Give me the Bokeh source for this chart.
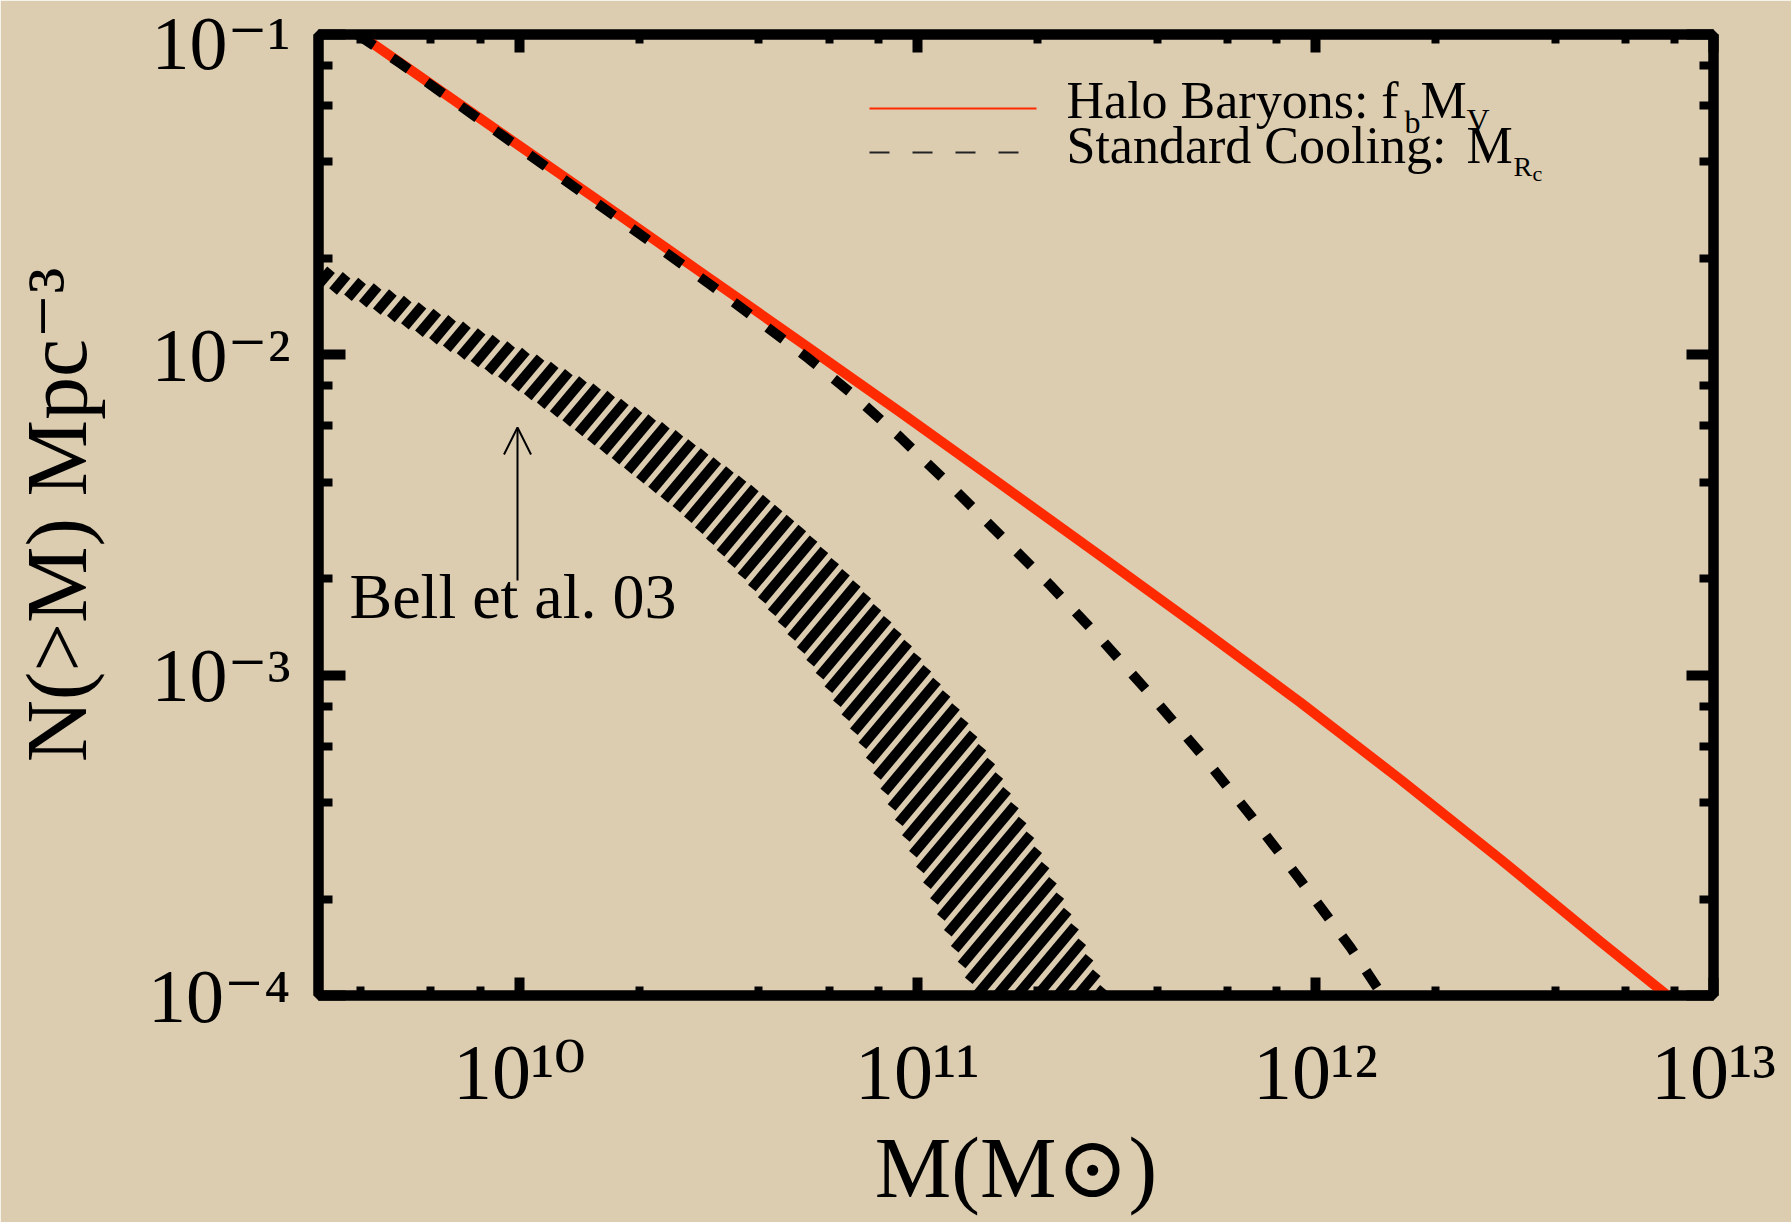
import math
from bokeh.plotting import figure
from bokeh.models import (Range1d, LogAxis, LogTicker, Label, Arrow, OpenHead,
                          CustomJSTickFormatter)
from bokeh.embed import file_html
from bokeh.resources import INLINE

# ---------------- data ----------------
halo_mass = [3.97e9, 5.03e9, 8.97e9, 1.600e10, 2.852e10, 5.09e10, 9.07e10, 1.618e11,
             2.885e11, 5.145e11, 9.17e11, 1.636e12, 2.917e12, 5.20e12, 7.66e12]
halo_density = [1.0e-1, 8.15e-2, 4.94e-2, 3.00e-2, 1.814e-2, 1.096e-2, 6.61e-3, 3.95e-3,
                2.355e-3, 1.398e-3, 8.22e-4, 4.72e-4, 2.66e-4, 1.474e-4, 1.0e-4]

cool_mass = [3.92e9, 5.03e9, 1.007e10, 3.04e10, 5.33e10, 6.79e10, 9.07e10, 1.211e11,
             1.618e11, 2.16e11, 2.885e11, 3.85e11, 5.15e11, 6.87e11, 9.17e11,
             1.225e12, 1.474e12]
cool_density = [1.0e-1, 8.12e-2, 4.41e-2, 1.646e-2, 9.74e-3, 7.63e-3, 5.52e-3, 3.91e-3,
                2.73e-3, 1.905e-3, 1.301e-3, 8.70e-4, 5.69e-4, 3.65e-4, 2.29e-4,
                1.412e-4, 1.0e-4]

bell_mass_upper = [3.10e9, 4.69e9, 7.16e9, 1.117e10, 1.675e10, 2.51e10, 3.81e10, 5.30e10,
                   7.20e10, 9.50e10, 1.232e11, 1.554e11, 2.015e11, 2.47e11, 3.00e11]
bell_upper = [1.914e-2, 1.588e-2, 1.262e-2, 9.88e-3, 7.63e-3, 5.72e-3, 3.94e-3, 2.79e-3,
              1.878e-3, 1.256e-3, 8.21e-4, 5.26e-4, 2.84e-4, 1.678e-4, 1.0e-4]
bell_mass_lower = [3.10e9, 4.01e9, 6.02e9, 8.87e9, 1.254e10, 1.775e10, 2.556e10, 3.075e10,
                   3.81e10, 4.72e10, 5.81e10, 7.32e10, 9.07e10, 1.098e11, 1.306e11, 1.40e11]
bell_lower = [1.658e-2, 1.446e-2, 1.109e-2, 8.50e-3, 6.37e-3, 4.58e-3, 3.20e-3, 2.54e-3,
              1.891e-3, 1.359e-3, 9.55e-4, 5.94e-4, 3.37e-4, 1.979e-4, 1.206e-4, 1.0e-4]

x_tick_values = [1e10, 1e11, 1e12, 1e13]
x_tick_labels = ["10\u00b9\u2070", "10\u00b9\u00b9", "10\u00b9\u00b2", "10\u00b9\u00b3"]
y_tick_values = [1e-1, 1e-2, 1e-3, 1e-4]
y_tick_labels = ["10\u207b\u00b9", "10\u207b\u00b2", "10\u207b\u00b3", "10\u207b\u2074"]
x_limits = (3.13e9, 1.0e13)
y_limits = (1.0e-4, 1.0e-1)

x_title = "M(M\u2299)"
y_title = "N(>M) Mpc\u207b\u00b3"
bell_text = "Bell et al. 03"

# ---------------- layout ----------------
W, H = 1791, 1222
FL, FR, FT, FB = 318, 1713, 34, 995
BG = "#DCCDB1"
RED = "#FF2A00"
SERIF = "Liberation Serif"
SERIF_STACK = "Liberation Serif, DejaVu Serif"

p = figure(width=W, height=H, x_axis_type="log", y_axis_type="log",
           x_range=Range1d(*x_limits), y_range=Range1d(*y_limits),
           output_backend="svg", toolbar_location=None,
           min_border_left=FL, min_border_right=W - FR,
           min_border_top=FT, min_border_bottom=H - FB)
p.background_fill_color = BG
p.border_fill_color = BG
p.outline_line_color = "black"
p.outline_line_width = 10
p.xgrid.visible = False
p.ygrid.visible = False

LX0, LX1 = math.log10(x_limits[0]), math.log10(x_limits[1])
LY0, LY1 = math.log10(y_limits[0]), math.log10(y_limits[1])


def px_x(v):
    return FL + (math.log10(v) - LX0) / (LX1 - LX0) * (FR - FL)


def px_y(v):
    return FB - (math.log10(v) - LY0) / (LY1 - LY0) * (FB - FT)


def data_x(px):
    return 10 ** (LX0 + (px - FL) / (FR - FL) * (LX1 - LX0))


def data_y(py):
    return 10 ** (LY0 + (FB - py) / (FB - FT) * (LY1 - LY0))


LABEL_JS = """
for (let i = 0; i < vals.length; i++) {
  if (Math.abs(Math.log10(tick) - Math.log10(vals[i])) < 1e-6) { return labs[i]; }
}
return "";
"""


def style_axis(ax, major_in, minor_in, vals=None, labs=None):
    ax.ticker = LogTicker()
    ax.axis_line_color = "black"
    ax.axis_line_width = 10
    ax.major_tick_line_color = "black"
    ax.minor_tick_line_color = "black"
    ax.major_tick_in = major_in
    ax.major_tick_out = 0
    ax.minor_tick_in = minor_in
    ax.minor_tick_out = 0
    ax.major_tick_line_width = 10
    ax.minor_tick_line_width = 8
    if vals is None:
        ax.formatter = CustomJSTickFormatter(code="return ''")
        ax.major_label_standoff = 0
    else:
        ax.formatter = CustomJSTickFormatter(args=dict(vals=vals, labs=labs), code=LABEL_JS)
        ax.major_label_text_font = SERIF_STACK
        ax.major_label_text_color = "black"
    ax.axis_label_text_font = SERIF_STACK
    ax.axis_label_text_font_style = "normal"
    ax.axis_label_text_color = "black"


xa = p.xaxis[0]
style_axis(xa, 18, 9, x_tick_values, x_tick_labels)
xa.major_label_text_font_size = "78px"
xa.major_label_standoff = 32
xa.axis_label = x_title
xa.axis_label_text_font_size = "86px"
xa.axis_label_standoff = 2

ya = p.yaxis[0]
style_axis(ya, 27, 14, y_tick_values, y_tick_labels)
ya.major_label_text_font_size = "76px"
ya.major_label_standoff = 28
ya.axis_label = y_title
ya.axis_label_text_font_size = "86px"
ya.axis_label_standoff = 40

top_axis = LogAxis()
style_axis(top_axis, 18, 9)
p.add_layout(top_axis, "above")
right_axis = LogAxis()
style_axis(right_axis, 27, 14)
p.add_layout(right_axis, "right")


# ---------------- hatched Bell et al. band ----------------
def hatch_segments(poly, angle_deg, spacing):
    th = math.radians(angle_deg)
    d = (math.cos(th), -math.sin(th))
    n = (math.sin(th), math.cos(th))
    svals = [n[0] * x + n[1] * y for x, y in poly]
    c = math.floor(min(svals) / spacing) * spacing + spacing / 2
    segs = []
    m = len(poly)
    while c < max(svals):
        pts = []
        for i in range(m):
            a, b = poly[i], poly[(i + 1) % m]
            sa = n[0] * a[0] + n[1] * a[1] - c
            sb = n[0] * b[0] + n[1] * b[1] - c
            if (sa < 0) != (sb < 0):
                t = sa / (sa - sb)
                pts.append((a[0] + t * (b[0] - a[0]), a[1] + t * (b[1] - a[1])))
        pts.sort(key=lambda q: d[0] * q[0] + d[1] * q[1])
        for j in range(0, len(pts) - 1, 2):
            segs.append((pts[j], pts[j + 1]))
        c += spacing
    return segs


band_px = [(px_x(xv), px_y(yv)) for xv, yv in zip(bell_mass_upper, bell_upper)]
band_px += [(px_x(xv), px_y(yv)) for xv, yv in zip(bell_mass_lower[::-1], bell_lower[::-1])]
segs = hatch_segments(band_px, 50, 15.5)
p.segment(x0=[data_x(s[0][0]) for s in segs], y0=[data_y(s[0][1]) for s in segs],
          x1=[data_x(s[1][0]) for s in segs], y1=[data_y(s[1][1]) for s in segs],
          line_color="black", line_width=10, line_cap="butt")

# ---------------- curves ----------------
p.line(halo_mass, halo_density, line_color=RED, line_width=10)
p.line(cool_mass, cool_density, line_color="black", line_width=10, line_dash="20 22")


# ---------------- in-frame texts ----------------
def put(text, px, py, size):
    # Bokeh places the label ~0.34 em below the requested baseline; compensate
    p.add_layout(Label(x=data_x(px), y=data_y(py - 0.34 * size), text=text, text_font=SERIF,
                       text_font_size=f"{size}px", text_color="black",
                       text_align="left", text_baseline="alphabetic"))


# legend
p.add_layout(Arrow(x_start=data_x(869), y_start=data_y(108), x_end=data_x(1036), y_end=data_y(108),
                   start=None, end=None, line_color=RED, line_width=2))
p.add_layout(Arrow(x_start=data_x(869), y_start=data_y(152), x_end=data_x(1018), y_end=data_y(152),
                   start=None, end=None, line_color="#222222", line_width=2, line_dash="20 23"))
put("Halo Baryons: f", 1066, 118, 52)
put("b", 1404, 132, 32)
put("M", 1420, 118, 52)
put("V", 1466, 130, 32)
put("Standard Cooling:", 1066, 163, 52)
put("M", 1466, 163, 52)
put("R", 1513, 176, 28)
put("c", 1532, 180, 22)

# Bell et al. annotation
p.add_layout(Arrow(x_start=data_x(517), y_start=data_y(580), x_end=data_x(517), y_end=data_y(427),
                   line_color="black", line_width=2,
                   end=OpenHead(size=27, line_color="black", line_width=2)))
put(bell_text, 349, 618, 64)

open("out.html", "w").write(file_html(p, INLINE))
